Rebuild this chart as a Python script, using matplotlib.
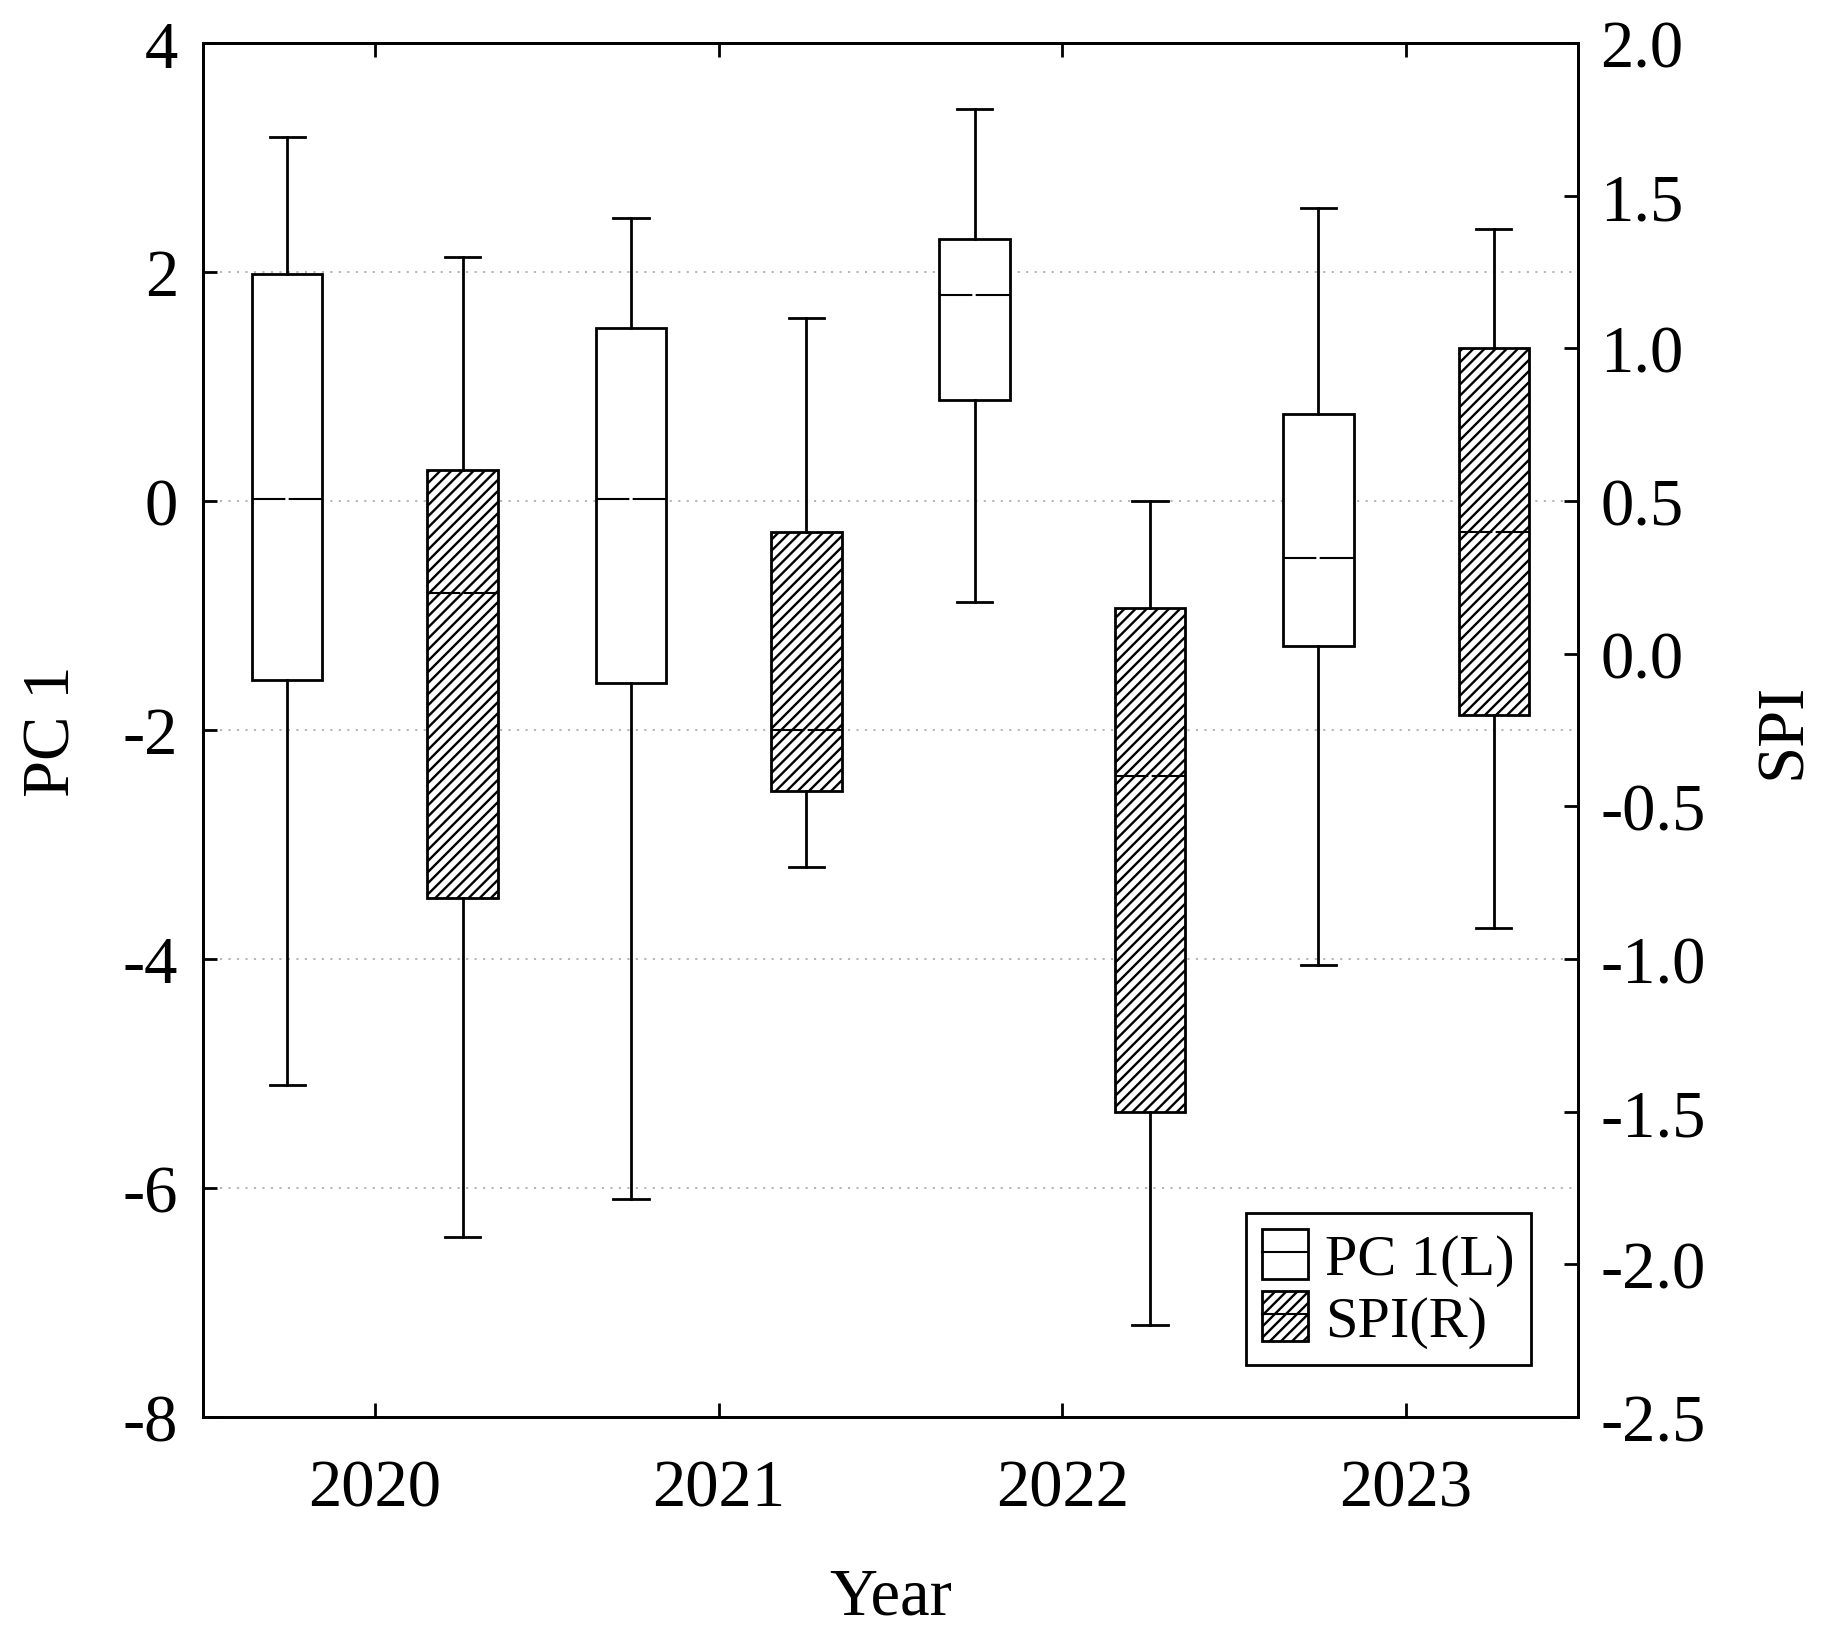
import matplotlib
matplotlib.use("Agg")
import matplotlib.pyplot as plt
from matplotlib.patches import Patch
from matplotlib.lines import Line2D
from matplotlib.legend_handler import HandlerTuple
from matplotlib.ticker import FormatStrFormatter

# ---- data ----
years = ["2020", "2021", "2022", "2023"]

pc1_whislo = [-5.10, -6.10, -0.88, -4.05]
pc1_q1     = [-1.56, -1.59, 0.88, -1.27]
pc1_med    = [0.02, 0.02, 1.80, -0.50]
pc1_q3     = [1.98, 1.51, 2.29, 0.76]
pc1_whishi = [3.18, 2.47, 3.42, 2.56]

spi_whislo = [-1.91, -0.70, -2.20, -0.90]
spi_q1     = [-0.80, -0.45, -1.50, -0.20]
spi_med    = [0.20, -0.25, -0.40, 0.40]
spi_q3     = [0.60, 0.40, 0.15, 1.00]
spi_whishi = [1.30, 1.10, 0.50, 1.39]

left_ticks = [-8, -6, -4, -2, 0, 2, 4]
right_ticks = [-2.5, -2.0, -1.5, -1.0, -0.5, 0.0, 0.5, 1.0, 1.5, 2.0]

plt.rcParams['font.family'] = ['Liberation Serif', 'DejaVu Serif']
plt.rcParams['axes.unicode_minus'] = False
plt.rcParams['hatch.linewidth'] = 1.7
plt.rcParams['hatch.color'] = 'black'

FS = 48
LW = 2.0
MLW = 1.5
MED_STYLE = (0, (16.0, 1.6, 100, 1))

fig = plt.figure(figsize=(18.26, 16.40), dpi=100)
ax = fig.add_axes([203/1826, 1 - 1418/1640, (1578-203)/1826, (1418-44)/1640])
ax2 = ax.twinx()

def stats(lo, q1, med, q3, hi):
    return [dict(whislo=a, q1=b, med=c, q3=d, whishi=e, fliers=[])
            for a, b, c, d, e in zip(lo, q1, med, q3, hi)]

pos = list(range(1, len(years) + 1))
off = 0.255
bw = 0.205
HATCH = '///'

ax.bxp(stats(pc1_whislo, pc1_q1, pc1_med, pc1_q3, pc1_whishi),
       positions=[p - off for p in pos], widths=bw, capwidths=bw/2,
       patch_artist=True, showfliers=False, manage_ticks=False,
       boxprops=dict(facecolor='white', edgecolor='black', linewidth=LW),
       whiskerprops=dict(color='black', linewidth=LW),
       capprops=dict(color='black', linewidth=LW),
       medianprops=dict(color='black', linewidth=MLW, linestyle=MED_STYLE), zorder=3)

ax2.bxp(stats(spi_whislo, spi_q1, spi_med, spi_q3, spi_whishi),
        positions=[p + off for p in pos], widths=bw, capwidths=bw/2,
        patch_artist=True, showfliers=False, manage_ticks=False,
        boxprops=dict(facecolor='white', edgecolor='black', linewidth=LW, hatch=HATCH),
        whiskerprops=dict(color='black', linewidth=LW),
        capprops=dict(color='black', linewidth=LW),
        medianprops=dict(color='black', linewidth=MLW, linestyle=MED_STYLE), zorder=3)

ax.set_xlim(0.5, len(years) + 0.5)
ax.set_ylim(-8, 4)
ax2.set_ylim(-2.5, 2.0)
ax.set_xticks(pos)
ax.set_xticklabels(years)
ax.set_yticks(left_ticks)
ax2.set_yticks(right_ticks)
ax2.yaxis.set_major_formatter(FormatStrFormatter('%.1f'))

ax.yaxis.grid(True, linestyle=(0, (1.2, 3.5)), color='#b0b0b0', linewidth=1.3)
ax.set_axisbelow(True)

ax.tick_params(axis='x', direction='in', top=True, bottom=True, length=10, width=LW,
               labelsize=FS, pad=30)
ax.tick_params(axis='y', direction='in', left=True, right=False, length=10, width=LW,
               labelsize=FS, pad=18)
ax2.tick_params(axis='y', direction='in', right=True, length=10, width=LW,
                labelsize=FS, pad=16)
for a in (ax, ax2):
    for s in a.spines.values():
        s.set_linewidth(LW)

ax.set_xlabel("Year", fontsize=FS, labelpad=34)
ax.set_ylabel("PC 1", fontsize=FS, labelpad=28)
ax2.set_ylabel("SPI", fontsize=FS, rotation=90, labelpad=34)

h1 = (Patch(facecolor='white', edgecolor='black', linewidth=LW),
      Line2D([], [], color='black', linewidth=MLW))
h2 = (Patch(facecolor='white', edgecolor='black', linewidth=LW, hatch=HATCH),
      Line2D([], [], color='black', linewidth=MLW))
leg = ax2.legend([h1, h2], ["PC 1(L)", "SPI(R)"],
                 handler_map={tuple: HandlerTuple(ndivide=1, pad=0)},
                 loc='lower right', bbox_to_anchor=(0.966, 0.038), borderaxespad=0,
                 fontsize=42, frameon=True, fancybox=False, edgecolor='black',
                 handlelength=0.78, handleheight=0.95, handletextpad=0.3,
                 labelspacing=0.08, borderpad=0.28)
leg.get_frame().set_linewidth(LW)
leg.get_frame().set_alpha(1)

fig.savefig("out.png", dpi=100)
